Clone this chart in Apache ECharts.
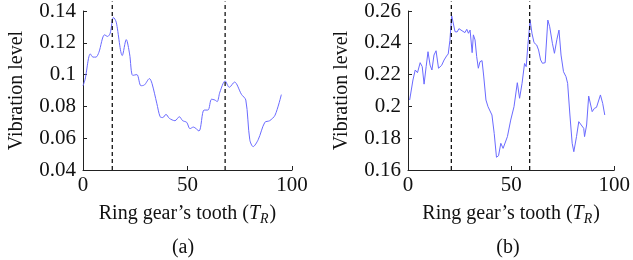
<!DOCTYPE html>
<html>
<head>
<meta charset="utf-8">
<script src="https://cdn.jsdelivr.net/npm/echarts@6/dist/echarts.min.js"></script>
<style>html,body{margin:0;padding:0;background:#fff}#c{width:633px;height:260px}</style>
</head>
<body>
<div id="c"></div>
<script>
// (a) tooth index / vibration level
var toothA = [0, 1, 3.5, 4.8, 6.2, 7.6, 10.3, 11.8, 13, 14.6, 15.9, 18.8, 20.7, 22.3, 23.8, 25.8, 27.7, 29.4, 31.8, 33, 35.3, 36.9, 38.2, 39.7, 41.3, 44, 46.1, 47.7, 49.6, 51.2, 52.8, 55.5, 57.9, 59.8, 61.5, 63.1, 64.2, 65.5, 68, 70, 72.5, 75.8, 77.9, 79.8, 81.4, 83.8, 87, 89.3, 91.9, 94.9];
var vibA = [0.093, 0.097, 0.113, 0.111, 0.111, 0.114, 0.125, 0.124, 0.126, 0.136, 0.133, 0.112, 0.122, 0.113, 0.0995, 0.100, 0.093, 0.0935, 0.0975, 0.0945, 0.082, 0.0735, 0.073, 0.075, 0.0725, 0.071, 0.0735, 0.071, 0.070, 0.066, 0.067, 0.0645, 0.0777, 0.0777, 0.0845, 0.084, 0.083, 0.089, 0.096, 0.092, 0.0953, 0.0876, 0.084, 0.059, 0.0547, 0.059, 0.070, 0.071, 0.0745, 0.0874];
// (b)
var toothB = [0.8, 2.4, 3.5, 4.6, 5.9, 6.9, 7.8, 8.8, 9.7, 10.7, 11.6, 12.6, 13.6, 14.8, 16.3, 17.5, 18.7, 19.5, 20.3, 21.2, 21.9, 22.8, 23.8, 24.7, 25.7, 26.6, 27.6, 28.5, 29.3, 30.1, 31.1, 31.7, 32.5, 33.3, 34.1, 34.9, 35.9, 36.7, 37.8, 38.8, 39.7, 40.7, 41.8, 42.9, 43.9, 45, 46.1, 47, 48.2, 49.8, 51.4, 53, 54.1, 55.3, 56.5, 57.3, 58.2, 59.2, 60.1, 61.1, 62.4, 63.3, 64.3, 65.2, 66.5, 67.8, 68.7, 70, 71, 72.2, 73.2, 74.2, 75.4, 76.6, 77.4, 78.5, 79.6, 80.4, 81.7, 82.8, 84, 85.2, 85.6, 86.6, 87.6, 88.5, 89.3, 90.4, 91.4, 92.3, 93.3, 94.4, 95.4];
var vibB = [0.204, 0.2166, 0.2229, 0.2212, 0.2275, 0.225, 0.214, 0.225, 0.2344, 0.226, 0.2229, 0.2323, 0.235, 0.224, 0.2258, 0.2292, 0.2317, 0.233, 0.2413, 0.2569, 0.2575, 0.247, 0.2468, 0.2489, 0.248, 0.2485, 0.2464, 0.2485, 0.246, 0.248, 0.2338, 0.245, 0.2418, 0.2313, 0.224, 0.2281, 0.2288, 0.2191, 0.204, 0.1998, 0.1994, 0.1946, 0.183, 0.168, 0.169, 0.1768, 0.1736, 0.1747, 0.181, 0.1914, 0.1998, 0.2149, 0.2051, 0.2145, 0.227, 0.225, 0.2397, 0.2543, 0.246, 0.2401, 0.2386, 0.2355, 0.2292, 0.2271, 0.2275, 0.2543, 0.2501, 0.2397, 0.2334, 0.2422, 0.248, 0.2323, 0.2218, 0.2187, 0.2145, 0.1946, 0.1768, 0.1715, 0.181, 0.1904, 0.1883, 0.1862, 0.181, 0.1883, 0.2065, 0.2061, 0.1967, 0.1988, 0.1994, 0.1986, 0.2072, 0.2019, 0.1946];
// dashed marker teeth
var marksA = [14, 68];
var marksB = [21, 59];
var xTicks = [0, 50, 100];
var yTicksA = [0.04, 0.06, 0.08, 0.1, 0.12, 0.14];
var yTicksB = [0.16, 0.18, 0.2, 0.22, 0.24, 0.26];
var panelLabels = ['(a)', '(b)'];

var FONT = 'Liberation Serif';
function pairs(xs, ys) { return xs.map(function (x, i) { return [x, ys[i]]; }); }

function xAxisCfg(gi) {
  return {
    gridIndex: gi, type: 'value', min: xTicks[0], max: xTicks[xTicks.length - 1], interval: xTicks[1] - xTicks[0],
    axisLine: { lineStyle: { color: '#222', width: 1 } },
    axisTick: { inside: true, length: 4, lineStyle: { color: '#222' } },
    splitLine: { show: false },
    axisLabel: { color: '#111', fontFamily: FONT, fontSize: 21, margin: 5 },
    name: '{n|Ring gear’s tooth (}{i|T}{s|R}{n|)}',
    nameLocation: 'middle', nameGap: 32,
    nameTextStyle: {
      rich: {
        n: { fontFamily: FONT, fontSize: 20, color: '#111' },
        i: { fontFamily: FONT, fontSize: 20, fontStyle: 'italic', color: '#111' },
        s: { fontFamily: FONT, fontSize: 14, fontStyle: 'italic', color: '#111', padding: [10, 1, 0, 0] }
      }
    }
  };
}
function yAxisCfg(gi, ticks) {
  return {
    gridIndex: gi, type: 'value', min: ticks[0], max: ticks[ticks.length - 1], interval: 0.02,
    axisLine: { show: true, lineStyle: { color: '#222', width: 1 } },
    axisTick: { show: true, inside: true, length: 4, lineStyle: { color: '#222' } },
    splitLine: { show: false },
    axisLabel: { color: '#111', fontFamily: FONT, fontSize: 21, margin: 7,
      formatter: function (v) { return String(+v.toFixed(2)); } },
    name: 'Vibration level', nameLocation: 'middle', nameGap: 56,
    nameTextStyle: { fontFamily: FONT, fontSize: 20, color: '#111' }
  };
}
function markSeries(gi, x, y0, y1) {
  return {
    type: 'line', xAxisIndex: gi, yAxisIndex: gi, data: [[x, y0], [x, y1]],
    symbol: 'none', clip: false, silent: true,
    lineStyle: { color: '#000', width: 1.2, type: [4, 3] }
  };
}

var chart = echarts.init(document.getElementById('c'), null, { renderer: 'canvas' });
var series = [
  { type: 'line', xAxisIndex: 0, yAxisIndex: 0, data: pairs(toothA, vibA), symbol: 'none', smooth: 0.3,
    lineStyle: { color: '#6a6aff', width: 1 } },
  { type: 'line', xAxisIndex: 1, yAxisIndex: 1, data: pairs(toothB, vibB), symbol: 'none',
    lineStyle: { color: '#6a6aff', width: 1 } }
];
marksA.forEach(function (m) { series.push(markSeries(0, m, yTicksA[0], 0.146)); });
marksB.forEach(function (m) { series.push(markSeries(1, m, yTicksB[0], 0.266)); });

chart.setOption({
  animation: false,
  backgroundColor: '#fff',
  grid: [
    { left: 83, top: 11, width: 209, height: 159 },
    { left: 408, top: 11, width: 209, height: 159 }
  ],
  xAxis: [xAxisCfg(0), xAxisCfg(1)],
  yAxis: [yAxisCfg(0, yTicksA), yAxisCfg(1, yTicksB)],
  title: [
    { text: panelLabels[0], left: 178, top: 233, textAlign: 'center',
      textStyle: { fontFamily: FONT, fontSize: 20, fontWeight: 'normal', color: '#111' } },
    { text: panelLabels[1], left: 503, top: 233, textAlign: 'center',
      textStyle: { fontFamily: FONT, fontSize: 20, fontWeight: 'normal', color: '#111' } }
  ],
  series: series
});
</script>
</body>
</html>
